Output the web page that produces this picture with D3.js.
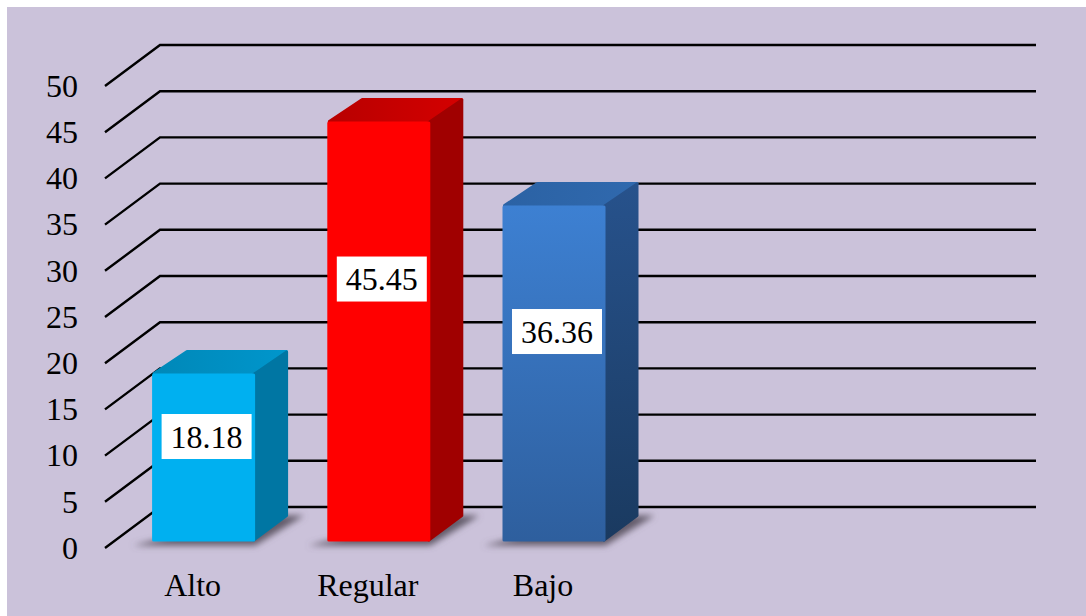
<!DOCTYPE html>
<html>
<head>
<meta charset="utf-8">
<script src="https://cdn.jsdelivr.net/npm/d3@7"></script>
<style>
  html, body { margin: 0; padding: 0; background: #fff; }
  svg { display: block; }
  text { font-family: "Liberation Serif", serif; fill: #000; }
</style>
</head>
<body>
<svg id="chart" width="1086" height="616"></svg>
<script>
// Data
const categories = ["Alto", "Regular", "Bajo"];
const values = [18.18, 45.45, 36.36];
const yTicks = [0, 5, 10, 15, 20, 25, 30, 35, 40, 45, 50];
const emptySlots = ["slot4", "slot5"]; // the original axis has two unused categories

// Bar colours: front top, front bottom, side top, side bottom, roof, roof highlight
const barColors = [
    ["#00b0f0", "#00b0f0", "#0076a3", "#0076a3", "#0088b8", "#0096cc"],
    ["#ff0000", "#ff0000", "#a00000", "#a00000", "#b80000", "#d40000"],
    ["#3d80d2", "#2e5f9e", "#27528c", "#1a3a60", "#2b62a4", "#3069ae"]
];

const svg = d3.select("#chart");

// Panel
svg.append("rect").attr("x", 7).attr("y", 7).attr("width", 1079).attr("height", 609).attr("fill", "#cbc2da");

const left = 105, right = 981;
const depthX = 55, depthY = 41;
const barWidth = 103;
const x = d3.scaleBand().domain(categories.concat(emptySlots)).range([left, right]);
const y = d3.scaleLinear().domain([0, 50]).range([548, 86]);

const defs = svg.append("defs");
defs.append("filter").attr("id", "soft")
    .attr("x", "-20%").attr("y", "-40%").attr("width", "140%").attr("height", "180%")
    .append("feGaussianBlur").attr("stdDeviation", 3);

const addGradient = (id, x2, y2, c1, c2) => {
    const g = defs.append("linearGradient").attr("id", id)
        .attr("x1", 0).attr("y1", 0).attr("x2", x2).attr("y2", y2);
    g.append("stop").attr("offset", "0%").attr("stop-color", c1);
    g.append("stop").attr("offset", "100%").attr("stop-color", c2);
};
categories.forEach((c, i) => {
    const col = barColors[i];
    addGradient(`front${i}`, 0, 1, col[0], col[1]);
    addGradient(`side${i}`, 0, 1, col[2], col[3]);
    addGradient(`roof${i}`, 1, 0, col[4], col[5]);
});

// Grid: diagonal on the side wall then straight along the back wall
svg.append("g").selectAll("path")
    .data(yTicks)
    .enter()
    .append("path")
    .attr("d", d => `M${left},${y(d)}L${left + depthX},${y(d) - depthY}L${right + depthX},${y(d) - depthY}`)
    .attr("fill", "none")
    .attr("stroke", "#000")
    .attr("stroke-width", 2.4);

// Axes, only their labels show
const yAxis = svg.append("g")
    .attr("transform", `translate(${left - 10},0)`)
    .call(d3.axisLeft(y).tickValues(yTicks).tickSize(0).tickPadding(17));
const xAxis = svg.append("g")
    .attr("transform", "translate(0,569)")
    .call(d3.axisBottom(x).tickValues(categories).tickSize(0).tickPadding(4));
[yAxis, xAxis].forEach(a => {
    a.select(".domain").remove();
    a.selectAll("text").style("font-family", '"Liberation Serif", serif').style("font-size", "32px").attr("fill", "#000");
});

// Bars sit a little into the depth and fill most of the rest
const geom = (d, i) => {
    const x0 = x(categories[i]) + x.bandwidth() / 2 - barWidth / 2 + depthX * 0.2;
    const base = y(0) - 6.5;
    const top = base - (y(0) - y(d));
    return { x0, x1: x0 + barWidth, base, top, dx: depthX * 0.6, dy: 23.5, floorDy: 26 };
};

const bars = svg.append("g").selectAll("g")
    .data(values)
    .enter()
    .append("g");

// Floor shadow
bars.append("path")
    .attr("d", (d, i) => {
        const g = geom(d, i);
        return `M${g.x0 - 19},${g.base + 4}L${g.x1},${g.base + 4}L${g.x1 + g.dx + 16},${g.base - g.floorDy}L${g.x1 + g.dx - 30},${g.base - g.floorDy}Z`;
    })
    .attr("fill", "#635b6a")
    .attr("filter", "url(#soft)");

const face = (cls, pathFn, fillFn) => bars.append("path")
    .attr("class", cls)
    .attr("d", pathFn)
    .attr("fill", fillFn)
    .attr("stroke", fillFn)
    .attr("stroke-width", 3)
    .attr("stroke-linejoin", "round");

face("roof", (d, i) => {
    const g = geom(d, i);
    return `M${g.x0 + 2},${g.top}L${g.x0 + g.dx + 2},${g.top - g.dy + 1.5}L${g.x1 + g.dx - 1.5},${g.top - g.dy + 1.5}L${g.x1 - 2},${g.top}Z`;
}, (d, i) => `url(#roof${i})`);

face("side", (d, i) => {
    const g = geom(d, i);
    return `M${g.x1 - 1.5},${g.top + 1}L${g.x1 + g.dx - 1.5},${g.top - g.dy + 2}L${g.x1 + g.dx - 1.5},${g.base - g.floorDy}L${g.x1 - 1.5},${g.base - 1.5}Z`;
}, (d, i) => `url(#side${i})`);

face("front", (d, i) => {
    const g = geom(d, i);
    return `M${g.x0 + 1.5},${g.top + 1.5}L${g.x1 - 1.5},${g.top + 1.5}L${g.x1 - 1.5},${g.base - 1.5}L${g.x0 + 1.5},${g.base - 1.5}Z`;
}, (d, i) => `url(#front${i})`);

// Value labels on white boxes
const labelW = 90, labelH = 45;
const labelPos = (d, i) => {
    const g = geom(d, i);
    return { cx: g.x0 + barWidth / 2 + 3, cy: g.top + (g.base - g.top) * 0.375 };
};
bars.append("rect")
    .attr("x", (d, i) => labelPos(d, i).cx - labelW / 2)
    .attr("y", (d, i) => labelPos(d, i).cy - labelH / 2)
    .attr("width", labelW)
    .attr("height", labelH)
    .attr("fill", "#fff");
bars.append("text")
    .attr("x", (d, i) => labelPos(d, i).cx)
    .attr("y", (d, i) => labelPos(d, i).cy)
    .attr("dy", "0.35em")
    .attr("text-anchor", "middle")
    .style("font-size", "32px")
    .text(d => d3.format(".2f")(d));
</script>
</body>
</html>
